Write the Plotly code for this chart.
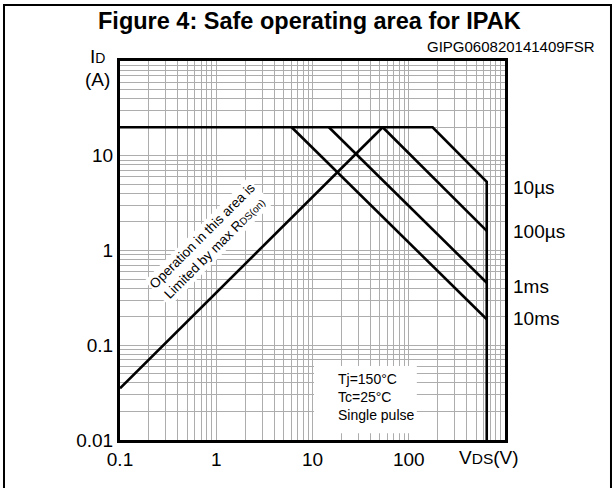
import numpy as np
import plotly.graph_objects as go

# ---- data ----
rds_vds = [0.1, 53.6]
rds_id = [0.0351, 20]
us10_vds = [0.1, 177, 646, 646]
us10_id = [20, 20, 5.32, 0.01]
us100_vds = [53.6, 646]
us100_id = [20, 1.61]
ms1_vds = [14.8, 646]
ms1_id = [20, 0.457]
ms10_vds = [6.07, 646]
ms10_id = [20, 0.188]

curve_labels = ["10µs", "100µs", "1ms", "10ms"]
curve_label_y = [0.667, 0.5496, 0.4063, 0.3211]  # paper positions

x_tick_vals = [0.1, 1, 10, 100]
x_tick_text = ["0.1", "1", "10", "100"]
y_tick_vals = [0.01, 0.1, 1, 10]
y_tick_text = ["0.01", "0.1", "1", "10"]
x_decades = [0.1, 1, 10, 100, 1000]
y_decades = [0.01, 0.1, 1, 10, 100]
minor_mult = [1, 2, 3, 4, 5, 6, 7, 8, 9]

FONT = "Liberation Sans, Arial, sans-serif"
GRID = "#adadad"


def grid_vals(decades):
    vals = []
    for d in decades[:-1]:
        for m in minor_mult:
            vals.append(d * m)
    vals.append(decades[-1])
    return vals


def grid_text(vals, tvals, ttext):
    out = []
    for v in vals:
        lab = ""
        for tv, tt in zip(tvals, ttext):
            if abs(v - tv) / tv < 1e-6:
                lab = tt
        out.append(lab)
    return out


xg = grid_vals(x_decades)
yg = grid_vals(y_decades)

fig = go.Figure()
line = dict(color="black", width=2.6)
for xs, ys in [(rds_vds, rds_id), (us10_vds, us10_id), (us100_vds, us100_id),
               (ms1_vds, ms1_id), (ms10_vds, ms10_id)]:
    fig.add_trace(go.Scatter(x=xs, y=ys, mode="lines", line=line,
                             showlegend=False, hoverinfo="skip"))

fig.update_xaxes(type="log", range=[np.log10(x_decades[0]), np.log10(x_decades[-1])],
                 tickvals=xg, ticktext=grid_text(xg, x_tick_vals, x_tick_text),
                 showgrid=True, gridcolor=GRID, gridwidth=1.2,
                 showline=True, mirror=True, linecolor="black", linewidth=3,
                 ticks="", tickfont=dict(family=FONT, size=19, color="black"),
                 zeroline=False)
fig.update_yaxes(type="log", range=[np.log10(y_decades[0]), np.log10(y_decades[-1])],
                 tickvals=yg, ticktext=grid_text(yg, y_tick_vals, y_tick_text),
                 showgrid=True, gridcolor=GRID, gridwidth=1.2,
                 showline=True, mirror=True, linecolor="black", linewidth=3,
                 ticks="", tickfont=dict(family=FONT, size=19, color="black"),
                 zeroline=False)


def ann(text, x, y, size, xanchor="center", yanchor="middle", **kw):
    d = dict(text=text, x=x, y=y, xref="paper", yref="paper", showarrow=False,
             xanchor=xanchor, yanchor=yanchor,
             font=dict(family=FONT, size=size, color="black"))
    d.update(kw)
    return d


anns = [
    ann("<b>Figure 4: Safe operating area for IPAK</b>", 0.491, 1.1055, 23.5),
    ann("GIPG060820141409FSR", 1.239, 1.037, 15, xanchor="right"),
    ann("I<span style='font-size:14px'>D</span>", -0.034, 1.0106, 19, xanchor="right"),
    ann("(A)", -0.0216, 0.9525, 19, xanchor="right"),
    ann("V<span style='font-size:15.5px'>DS</span>(V)", 0.875, -0.045, 19, xanchor="left"),
    ann("Operation in this area is<br>Limited by max R<span style='font-size:10px'>DS(on)</span>",
        0.229, 0.5224, 13.5, textangle=-45, bgcolor="white"),
    ann("Tj=150°C<br>Tc=25°C<br>Single pulse", 0.562, 0.1135, 14, xanchor="left", align="left"),
]
for lab, yy in zip(curve_labels, curve_label_y):
    anns.append(ann(lab, 1.0156, yy, 19, xanchor="left"))

shapes = [
    dict(type="rect", xref="paper", yref="paper", x0=0.504, x1=0.771,
         y0=0.018, y1=0.195, fillcolor="white", line=dict(width=0), layer="above"),
    dict(type="rect", xref="paper", yref="paper", x0=-0.3013, x1=1.2753,
         y0=-0.2, y1=1.1478, fillcolor="rgba(0,0,0,0)",
         line=dict(color="black", width=2), layer="above"),
]

fig.update_layout(width=615, height=488, margin=dict(l=120, r=110, t=61, b=48),
                  paper_bgcolor="white", plot_bgcolor="white",
                  annotations=anns, shapes=shapes)

fig.write_html("out.html", config={"displayModeBar": False},
               post_script="document.body.style.margin='0px';")
